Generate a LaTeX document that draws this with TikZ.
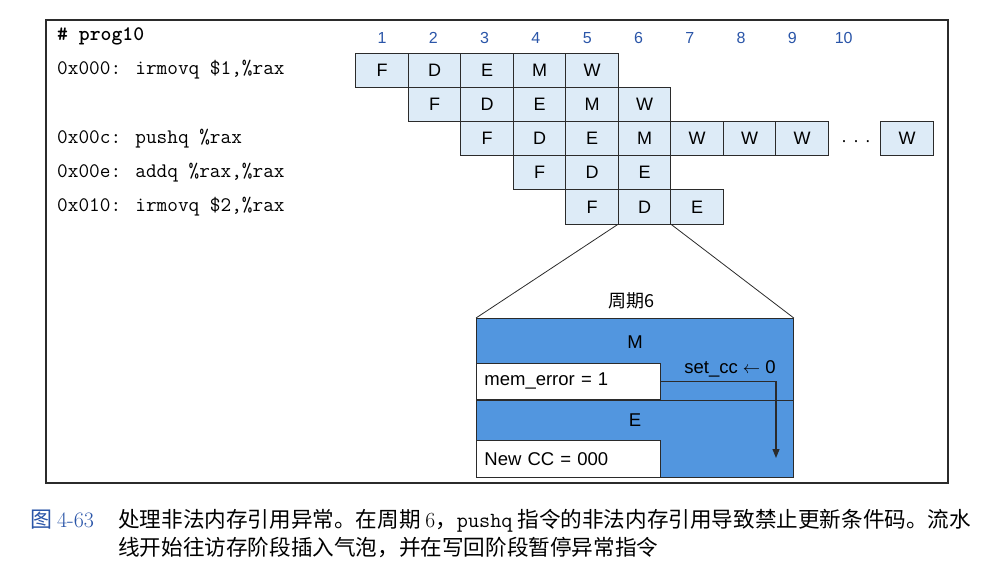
\documentclass[tikz,border=0pt]{standalone}
\usepackage{fontspec}
\setsansfont{Liberation Sans}
\newfontfamily\cjk{Noto Sans CJK SC}
\usetikzlibrary{arrows.meta,positioning,calc}
\definecolor{pfblue}{HTML}{2A55A8}
\definecolor{pfcell}{HTML}{DDEBF7}
\definecolor{pfband}{HTML}{5296DF}
\definecolor{pfdark}{HTML}{2B2B2B}
\tikzset{
  cell/.style={draw=pfdark,fill=pfcell,line width=0.8pt,minimum width=52.5pt,
               minimum height=34.2pt,inner sep=0pt,font=\fontsize{18}{21}\sffamily},
  code/.style={anchor=west,inner sep=0pt,font=\fontsize{20.7}{24}\ttfamily},
  cyc/.style={text=pfblue,inner sep=0pt,font=\fontsize{16}{19}\sffamily},
  band/.style={draw=pfdark,fill=pfband,line width=0.8pt,minimum width=317pt,
               inner sep=0pt,anchor=north west},
  reg/.style={draw=pfdark,fill=white,line width=0.8pt,minimum width=184pt,
              text width=168pt,inner xsep=8pt,inner ysep=0pt,align=left,
              anchor=north west,font=\fontsize{18.5}{22}\sffamily},
  lab/.style={inner sep=0pt,font=\fontsize{18.5}{22}\sffamily},
  ar/.style={-{Triangle[length=9pt,width=7pt]},line width=1.2pt,pfdark},
}
\begin{document}
\begin{tikzpicture}[x=1pt,y=-1pt]
  \useasboundingbox (0,0) rectangle (996,576);
  \draw[pfdark,line width=1.3pt] (46,20) rectangle (948,483);
  % program listing
  \node[code,font=\fontsize{20.7}{24}\ttfamily\bfseries] (prog) at (57,36) {\# prog10};
  \node[code] (i1) at (57,70.1) {0x000: irmovq \$1,\%rax};
  \node[code] (i3) at (57,138.5) {0x00c: pushq \%rax};
  \node[code] (i4) at (57,172.7) {0x00e: addq \%rax,\%rax};
  \node[code] (i5) at (57,206.9) {0x010: irmovq \$2,\%rax};
  % cycle numbers
  \foreach \k in {1,...,10}
    \node[cyc] (n\k) at ({382+(\k-1)*51.3},38) {\k};
  % pipeline stages
  \foreach \r/\s/\lst in {1/1/{F,D,E,M,W},2/2/{F,D,E,M,W},3/3/{F,D,E,M,W,W,W},
                          4/4/{F,D,E},5/5/{F,D,E}}
    \foreach \l [count=\i from 0] in \lst {
      \pgfmathtruncatemacro\c{\s+\i}
      \node[cell] (c\r-\c) at ({382+(\c-1)*52.5},{70.1+(\r-1)*34.2}) {\l};
    }
  \node[inner sep=0pt,font=\fontsize{18}{21}\sffamily] (dots) at (856,144) {·\,\,·\,\,·};
  \node[cell] (c3-11) at ({382+10*52.5},138.5) {W};
  % cycle 6 detail
  \node[band,minimum height=82pt] (mband) at (476,318) {};
  \node[band,minimum height=77pt] (eband) at (476,400) {};
  \node[reg,minimum height=36pt] (memerr) at (476,363) {mem\_error = 1};
  \node[reg,minimum height=37pt] (newcc) at (476,440) {New CC = 000};
  \node[lab] (mlab) at (635,342) {M};
  \node[lab] (elab) at (635,420) {E};
  \node[inner sep=0pt,font=\fontsize{18}{21}\cjk] (cyc6) at (631,301) {周期6};
  \draw[pfdark,line width=0.8pt] (c5-6.south west) -- (mband.north west);
  \draw[pfdark,line width=0.8pt] (c5-6.south east) -- (mband.north east);
  \coordinate (ccend) at (776,458);
  \draw[ar] (memerr.east) -| (ccend);
  \node[lab] (setcc) at (730,369) {set\_cc $\leftarrow$ 0};
  % caption
  \node[anchor=west,inner sep=0pt,text=pfblue,font=\fontsize{22}{26}\cjk] (fignum)
    at (30,520) {图 {\rmfamily 4-63}};
  \node[anchor=west,inner sep=0pt,align=left,font=\fontsize{21.6}{28}\cjk] (cap) at (118,534)
    {处理非法内存引用异常。在周期 {\rmfamily 6}，{\ttfamily pushq} 指令的非法内存引用导致禁止更新条件码。流水\\
     线开始往访存阶段插入气泡，并在写回阶段暂停异常指令};
\end{tikzpicture}
\end{document}
